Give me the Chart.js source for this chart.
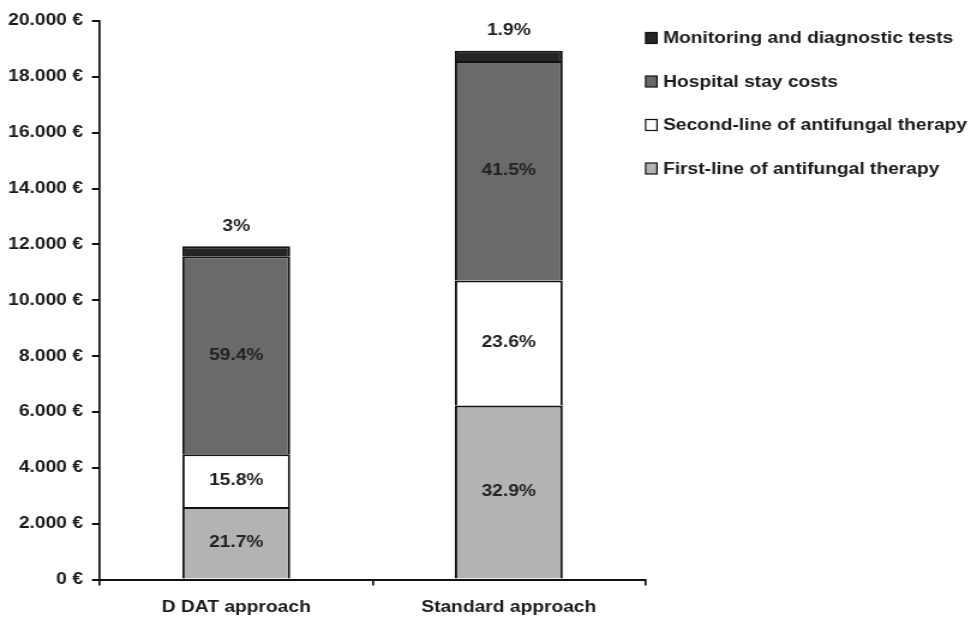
<!DOCTYPE html>
<html>
<head>
<meta charset="utf-8">
<script src="https://cdn.jsdelivr.net/npm/chart.js@4.4.1/dist/chart.umd.min.js"></script>
<style>
  html, body { margin: 0; padding: 0; background: #ffffff; overflow: hidden; }
  /* the figure is drawn narrower and widened, giving its broad lettering */
  #wrap { width: 809px; height: 620px; transform: scaleX(1.20025); transform-origin: 0 0; }
</style>
</head>
<body>
<div id="wrap"><canvas id="chart" width="809" height="620"></canvas></div>
<script>
// Cost per patient, split by cost component (shares in % of each total)
const categories = ['D DAT approach', 'Standard approach'];
const totalCost = [11950, 18950];
const firstLinePct = [21.7, 32.9];
const secondLinePct = [15.8, 23.6];
const hospitalPct = [59.4, 41.5];
const monitoringPct = [3, 1.9];
const seriesNames = [
  'First-line of antifungal therapy',
  'Second-line of antifungal therapy',
  'Hospital stay costs',
  'Monitoring and diagnostic tests'
];
const yTickValues = [0, 2000, 4000, 6000, 8000, 10000, 12000, 14000, 16000, 18000, 20000];

const FONT = '"Liberation Sans", Arial, sans-serif';
const toCost = pct => pct.map((p, i) => p / 100 * totalCost[i]);
const pctSets = [firstLinePct, secondLinePct, hospitalPct, monitoringPct];
const fills = ['#b3b3b3', '#ffffff', '#6a6a6a', '#252525'];

const datasets = pctSets.map((pct, k) => ({
  label: seriesNames[k],
  data: toCost(pct),
  pct: pct,
  backgroundColor: fills[k],
  borderColor: '#111111',
  borderWidth: 2,
  borderSkipped: 'start',
  categoryPercentage: 1,
  barPercentage: 0.396
}));

const fmtEuro = v => String(v).replace(/\B(?=(\d{3})+(?!\d))/g, '.') + ' €';

// Percent labels inside each segment, top segment's label above the bar
const segmentLabels = {
  id: 'segmentLabels',
  afterDatasetsDraw(chart) {
    const ctx = chart.ctx;
    ctx.save();
    ctx.font = 'bold 16px ' + FONT;
    ctx.fillStyle = '#222222';
    ctx.textAlign = 'center';
    ctx.textBaseline = 'middle';
    const last = chart.data.datasets.length - 1;
    chart.data.datasets.forEach((ds, di) => {
      chart.getDatasetMeta(di).data.forEach((bar, i) => {
        const txt = ds.pct[i] + '%';
        if (di === last) {
          ctx.fillText(txt, bar.x, Math.min(bar.y, bar.base) - 20);
        } else {
          ctx.fillText(txt, bar.x, (bar.y + bar.base) / 2);
        }
      });
    });
    ctx.restore();
  }
};

// Legend listed top-down from the upper stack segment
const sideLegend = {
  id: 'sideLegend',
  afterDraw(chart) {
    const ctx = chart.ctx;
    const x0 = chart.chartArea.right;
    ctx.save();
    ctx.font = 'bold 16px ' + FONT;
    ctx.textBaseline = 'middle';
    ctx.textAlign = 'left';
    const items = chart.data.datasets.slice().reverse();
    items.forEach((ds, j) => {
      const cy = 38 + j * 43.5;
      ctx.fillStyle = ds.backgroundColor;
      ctx.fillRect(x0 + 0.5, cy - 5.5, 9.5, 11);
      ctx.lineWidth = 1.2;
      ctx.strokeStyle = '#111111';
      ctx.strokeRect(x0 + 0.5, cy - 5.5, 9.5, 11);
      ctx.fillStyle = '#1a1a1a';
      ctx.fillText(ds.label, x0 + 15, cy + 1);
    });
    ctx.restore();
  }
};

new Chart(document.getElementById('chart'), {
  type: 'bar',
  data: { labels: categories, datasets: datasets },
  options: {
    responsive: false,
    animation: false,
    layout: { padding: { top: 21, right: 271.6, bottom: 0, left: 0 } },
    plugins: {
      legend: { display: false },
      tooltip: { enabled: false }
    },
    scales: {
      x: {
        stacked: true,
        offset: true,
        border: { color: '#111111', width: 2 },
        grid: { drawOnChartArea: false, offset: true, tickLength: 6, color: '#111111', lineWidth: 1.7 },
        ticks: { color: '#1a1a1a', font: { family: FONT, size: 16, weight: 'bold' }, padding: 12 },
        afterFit(scale) { scale.height = 40.5; }
      },
      y: {
        stacked: true,
        min: 0,
        max: 20000,
        border: { color: '#111111', width: 1.7 },
        grid: { drawOnChartArea: false, tickLength: 6.7, color: '#111111', lineWidth: 2 },
        afterBuildTicks(scale) { scale.ticks = yTickValues.map(v => ({ value: v })); },
        ticks: {
          color: '#1a1a1a',
          font: { family: FONT, size: 16, weight: 'bold' },
          padding: 7.5,
          callback: v => fmtEuro(v)
        },
        afterFit(scale) { scale.width = 83.3; }
      }
    }
  },
  plugins: [segmentLabels, sideLegend]
});
</script>
</body>
</html>
